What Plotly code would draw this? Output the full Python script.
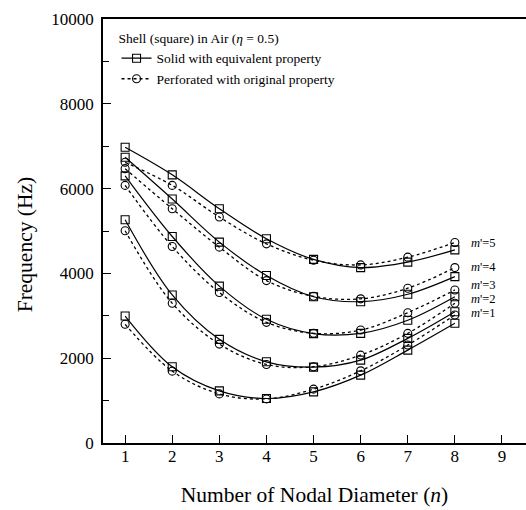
import plotly.graph_objects as go

n_values = [1, 2, 3, 4, 5, 6, 7, 8]
modes = ["m'=1", "m'=2", "m'=3", "m'=4", "m'=5"]

solid = {
    "m'=1": [2995, 1797, 1229, 1050, 1206, 1600, 2191, 2823],
    "m'=2": [5265, 3492, 2444, 1915, 1790, 1955, 2468, 3097],
    "m'=3": [6300, 4870, 3700, 2917, 2580, 2586, 2895, 3450],
    "m'=4": [6738, 5754, 4738, 3950, 3450, 3333, 3508, 3924],
    "m'=5": [6974, 6324, 5525, 4816, 4330, 4137, 4265, 4556],
}
perforated = {
    "m'=1": [2799, 1695, 1158, 1040, 1270, 1702, 2310, 3019],
    "m'=2": [5005, 3296, 2333, 1853, 1800, 2073, 2586, 3296],
    "m'=3": [6076, 4634, 3550, 2846, 2586, 2664, 3073, 3610],
    "m'=4": [6470, 5525, 4619, 3830, 3460, 3400, 3650, 4137],
    "m'=5": [6620, 6076, 5329, 4697, 4310, 4200, 4383, 4728],
}
label_y = {"m'=1": 3060, "m'=2": 3395, "m'=3": 3730, "m'=4": 4160, "m'=5": 4728}
y_ticks = [0, 2000, 4000, 6000, 8000, 10000]
y_ticktext = ["0", "2000", "4000", "6000", "8000", "10000"]
x_ticks = [1, 2, 3, 4, 5, 6, 7, 8, 9]

FONT = "Liberation Serif"
fig = go.Figure()

for i, m in enumerate(modes):
    fig.add_trace(go.Scatter(
        x=n_values, y=solid[m], mode="lines+markers",
        line=dict(color="black", width=1.2, shape="spline", smoothing=1.0),
        marker=dict(symbol="square-open", size=8, color="black", line=dict(width=1.1)),
        name="Solid with equivalent property", legendgroup="solid",
        showlegend=(i == 0), legendrank=1,
    ))
for i, m in enumerate(modes):
    fig.add_trace(go.Scatter(
        x=n_values, y=perforated[m], mode="lines+markers",
        line=dict(color="black", width=1.3, dash="dot", shape="spline", smoothing=1.0),
        marker=dict(symbol="circle-open", size=8, color="black", line=dict(width=1.1)),
        name="Perforated with original property", legendgroup="perf",
        showlegend=(i == 0), legendrank=2,
    ))

for m in modes:
    fig.add_annotation(
        x=8.3, y=label_y[m], xref="x", yref="y", xanchor="left", yanchor="middle",
        text="<i>m</i>'=" + m.split("=")[1], showarrow=False,
        font=dict(family=FONT, size=12.5, color="black"),
    )

fig.add_annotation(
    x=-0.184, y=0.469, xref="paper", yref="paper", xanchor="center", yanchor="middle",
    text="Frequency (Hz)", textangle=-90, showarrow=False,
    font=dict(family=FONT, size=21.5, color="black"),
)

fig.update_layout(
    width=526, height=510,
    margin=dict(l=103, r=0, t=19, b=67),
    paper_bgcolor="white", plot_bgcolor="white",
    font=dict(family=FONT, color="black", size=17),
    legend=dict(
        x=0.032, y=0.985, xanchor="left", yanchor="top",
        bgcolor="rgba(255,255,255,0)", borderwidth=0,
        font=dict(family=FONT, size=13.5, color="black"),
        title=dict(text="Shell (square) in Air (<i>η</i> = 0.5)",
                   font=dict(family=FONT, size=13.5, color="black"), side="top"),
        tracegroupgap=0, itemwidth=30,
    ),
    xaxis=dict(
        range=[0.53, 9.51], tickvals=x_ticks,
        ticks="inside", ticklen=8, tickwidth=1.2, tickcolor="black",
        showline=True, linecolor="black", linewidth=1.5, mirror=True,
        showgrid=False, zeroline=False,
        tickfont=dict(family=FONT, size=17), ticklabelstandoff=-3,
        title=dict(text="Number of Nodal Diameter (<i>n</i>)", font=dict(family=FONT, size=21.5), standoff=22),
    ),
    yaxis=dict(
        range=[0, 10000], tickvals=y_ticks, ticktext=y_ticktext,
        ticks="inside", ticklen=8, tickwidth=1.2, tickcolor="black",
        minor=dict(dtick=1000, ticks="inside", ticklen=6, tickwidth=1.2, tickcolor="black"),
        showline=True, linecolor="black", linewidth=1.5,
        showgrid=False, zeroline=False,
        tickfont=dict(family=FONT, size=17), ticklabelstandoff=4,
    ),
)

fig.write_html("out.html")
